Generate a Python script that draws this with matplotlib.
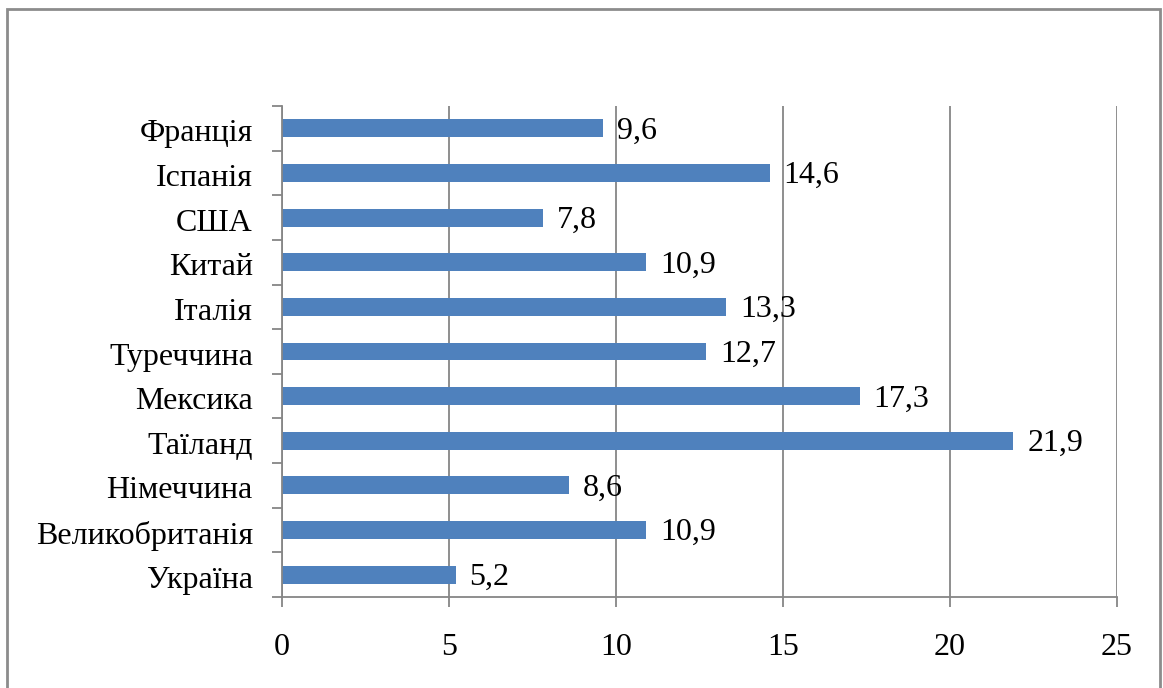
import matplotlib
matplotlib.use("Agg")
import matplotlib.pyplot as plt
from matplotlib.patches import Rectangle
from matplotlib.transforms import ScaledTranslation

countries = ["Франція", "Іспанія", "США", "Китай", "Італія", "Туреччина",
             "Мексика", "Таїланд", "Німеччина", "Великобританія", "Україна"]
values = [9.6, 14.6, 7.8, 10.9, 13.3, 12.7, 17.3, 21.9, 8.6, 10.9, 5.2]
x_ticks = [0, 5, 10, 15, 20, 25]

plt.rcParams["font.family"] = ["Liberation Serif", "DejaVu Serif"]
FS = 23

fig = plt.figure(figsize=(11.63, 6.88), dpi=100)
ax = fig.add_axes([282 / 1163, 1 - 597 / 688, (1117 - 282) / 1163, (597 - 106) / 688])

n = len(countries)
pos = list(range(n))[::-1]  # first country at the top
ax.barh(pos, values, height=0.4, color="#4F81BD", zorder=3)

for y, v in zip(pos, values):
    ax.annotate(f"{v:.1f}".replace(".", ","), xy=(v, y), xytext=(10, -2),
                textcoords="offset points", va="center", ha="left",
                fontsize=FS, color="black", zorder=4)

ax.set_xlim(0, 25)
ax.set_ylim(-0.5, n - 0.5)
ax.set_xticks(x_ticks)
ax.set_xticklabels([str(t) for t in x_ticks], fontsize=FS)
ax.set_yticks(pos)
ax.set_yticklabels(countries, fontsize=FS)

# ticks on the category boundaries, labels centred on the bars
ax.set_yticks([p - 0.5 for p in range(n + 1)], minor=True)
ax.tick_params(axis="y", which="major", length=0, pad=21)
ax.tick_params(axis="y", which="minor", length=7, width=1.3, color="#868686")
ax.tick_params(axis="x", which="major", length=7, width=1.3, color="#868686", pad=19)

# nudge category names slightly down
shift = ScaledTranslation(0, -1.5 / 72, fig.dpi_scale_trans)
for lbl in ax.get_yticklabels():
    lbl.set_transform(lbl.get_transform() + shift)

ax.grid(axis="x", color="#868686", linewidth=1.3, zorder=0)
for side in ["top", "right"]:
    ax.spines[side].set_visible(False)
for side in ["left", "bottom"]:
    ax.spines[side].set_color("#868686")
    ax.spines[side].set_linewidth(1.3)
    ax.spines[side].set_zorder(5)

# outer frame of the chart area
fig.patches.append(Rectangle((7 / 1163, -0.05), (1160 - 7) / 1163, 1.05 - 9 / 688,
                             transform=fig.transFigure, fill=False,
                             edgecolor="#8c8c8c", linewidth=2))

fig.savefig("out.png", dpi=100)
